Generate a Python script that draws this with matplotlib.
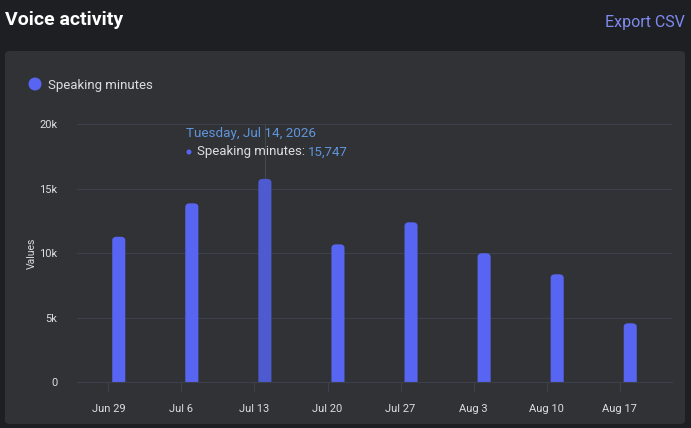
import matplotlib
matplotlib.use("Agg")
import matplotlib.pyplot as plt
import matplotlib.dates as mdates
from matplotlib.patches import FancyBboxPatch, Ellipse
import datetime as dt

plt.rcParams['font.family'] = ['Roboto', 'DejaVu Sans']

# data (weekly speaking minutes, bars on Tuesdays)
bar_dates = ["2026-06-30", "2026-07-07", "2026-07-14", "2026-07-21",
             "2026-07-28", "2026-08-04", "2026-08-11", "2026-08-18"]
speaking_minutes = [11260, 13850, 15747, 10670, 12380, 9980, 8350, 4550]
tick_dates = ["2026-06-29", "2026-07-06", "2026-07-13", "2026-07-20",
              "2026-07-27", "2026-08-03", "2026-08-10", "2026-08-17"]
tick_labels = ["Jun 29", "Jul 6", "Jul 13", "Jul 20", "Jul 27", "Aug 3", "Aug 10", "Aug 17"]
y_ticks = [0, 5000, 10000, 15000, 20000]
y_tick_labels = ["0", "5k", "10k", "15k", "20k"]
hover_index = 2

BG = "#1e1f22"
PANEL = "#313236"
BAR = "#5865f2"
BAR_HOVER = "#4e5bd0"
GRID = "#3d414a"
TEXT = "#dbdee1"
BLUE_TXT = "#5e95dc"

W, H = 691, 428
fig = plt.figure(figsize=(W / 100, H / 100), dpi=100, facecolor=BG)


def dot(px, py, r):
    # round dot in pixel terms, placed in figure coords
    e = Ellipse((px / W, 1 - py / H), 2 * r / W, 2 * r / H, transform=fig.transFigure,
                facecolor=BAR, edgecolor="none", zorder=5)
    fig.patches.append(e)


# panel behind the chart
panel = FancyBboxPatch((5 / W, 1 - 424 / H), 680 / W, 373 / H,
                       boxstyle="round,pad=0,rounding_size=0.008",
                       transform=fig.transFigure, facecolor=PANEL, edgecolor="none",
                       zorder=-5)
fig.patches.append(panel)

fig.text(5 / W, 1 - 20 / H, "Voice activity", color="white", fontsize=14,
         fontweight="bold", va="center", ha="left")
fig.text(685 / W, 1 - 23 / H, "Export CSV", color="#7f8af0", fontsize=11.5,
         va="center", ha="right")

# legend
dot(35, 84, 6.5)
fig.text(48 / W, 1 - 85 / H, "Speaking minutes", color=TEXT, fontsize=9.5,
         va="center", ha="left")

ax = fig.add_axes([77 / W, 1 - 382 / H, 595 / W, 258 / H], zorder=1)
ax.set_facecolor("none")

x = mdates.date2num([dt.date.fromisoformat(d) for d in bar_dates])
bars = ax.bar(x, speaking_minutes, width=1.25, color=BAR)

# swap plain bars for bars with rounded tops
for i, b in enumerate(bars):
    b.set_visible(False)
    rb = FancyBboxPatch((b.get_x(), -600), b.get_width(), b.get_height() + 600,
                        boxstyle="round,pad=0,rounding_size=0.45",
                        mutation_aspect=620,
                        facecolor=BAR_HOVER if i == hover_index else BAR,
                        edgecolor="none", zorder=3)
    ax.add_patch(rb)

ticks = mdates.date2num([dt.date.fromisoformat(d) for d in tick_dates])
ax.set_xticks(ticks)
ax.set_xticklabels(tick_labels)
ax.set_xlim(mdates.date2num(dt.date(2026, 6, 26)), mdates.date2num(dt.date(2026, 8, 22)))
ax.set_ylim(0, 20000)
ax.set_yticks(y_ticks)
ax.set_yticklabels(y_tick_labels)

ax.grid(axis="y", color=GRID, linewidth=0.8)
ax.set_axisbelow(True)
for s in ["top", "right", "left"]:
    ax.spines[s].set_visible(False)
ax.spines["bottom"].set_color(GRID)
ax.spines["bottom"].set_linewidth(0.8)
ax.spines["bottom"].set_zorder(4)
ax.tick_params(axis="x", colors=TEXT, labelsize=8, length=7, width=0.8, pad=9, color=GRID)
ax.tick_params(axis="y", colors=TEXT, labelsize=8, length=0, pad=14)
ax.set_ylabel("Values", color=TEXT, fontsize=7.5, labelpad=2)

# hover crosshair and tooltip
hx = x[hover_index]
ax.vlines(hx, speaking_minutes[hover_index], 20000, color="#43474f", linewidth=0.8, zorder=2)
fig.text(186 / W, 1 - 133 / H, "Tuesday, Jul 14, 2026", color=BLUE_TXT, fontsize=9.7,
         va="center", ha="left")
dot(189, 152, 2.5)
t = fig.text(197 / W, 1 - 152 / H, "Speaking minutes: ", color=TEXT, fontsize=9.5,
             va="center", ha="left")
fig.canvas.draw()
bb = t.get_window_extent()
fig.text(bb.x1 / W, 1 - 152 / H, f"{speaking_minutes[hover_index]:,}", color=BLUE_TXT,
         fontsize=9.5, va="center", ha="left")

fig.savefig("out.png", dpi=100, facecolor=BG)
